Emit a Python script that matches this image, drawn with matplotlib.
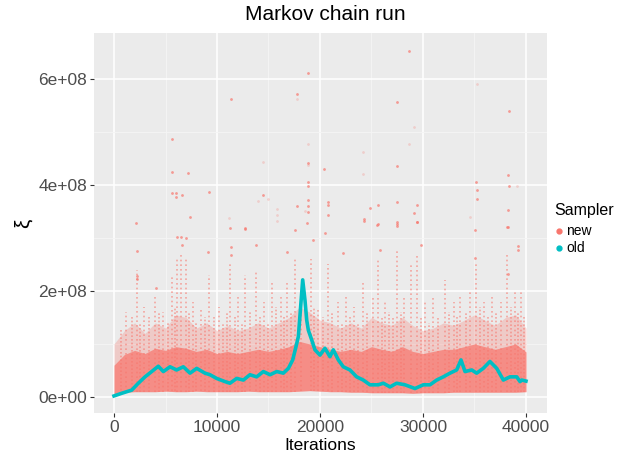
import matplotlib
matplotlib.use("Agg")
import matplotlib.pyplot as plt
import numpy as np
from matplotlib.lines import Line2D
from matplotlib.ticker import FuncFormatter, MultipleLocator

RED = "#F8766D"
TEAL = "#00BFC4"
SCALE = 1e8

# "new" sampler: bulk of the cloud, sampled every 1000 iterations (units of 1e8)
band_x = list(range(0, 40001, 1000))
band_lo = [0.05, 0.09, 0.10, 0.10, 0.10, 0.11, 0.10, 0.10, 0.11, 0.10, 0.10,
           0.10, 0.10, 0.11, 0.10, 0.10, 0.10, 0.10, 0.11, 0.12, 0.11, 0.10,
           0.10, 0.09, 0.09, 0.08, 0.08, 0.08, 0.08, 0.07, 0.08, 0.08, 0.08,
           0.09, 0.09, 0.09, 0.09, 0.09, 0.09, 0.09, 0.10]
band_core = [0.60, 0.80, 0.88, 0.82, 0.92, 0.88, 0.95, 0.92, 0.86, 0.90, 0.82,
             0.86, 0.82, 0.86, 0.90, 0.86, 0.90, 0.95, 1.05, 1.00, 0.95, 0.90,
             0.86, 0.90, 0.86, 0.95, 0.90, 0.86, 0.95, 0.86, 0.82, 0.86, 0.90,
             0.90, 0.95, 1.00, 0.95, 0.90, 0.95, 1.00, 0.85]
band_hi = [1.00, 1.25, 1.40, 1.20, 1.40, 1.30, 1.55, 1.50, 1.30, 1.40, 1.25,
           1.35, 1.25, 1.30, 1.40, 1.30, 1.40, 1.50, 1.70, 1.60, 1.45, 1.40,
           1.30, 1.40, 1.30, 1.50, 1.40, 1.35, 1.50, 1.35, 1.25, 1.30, 1.40,
           1.35, 1.45, 1.55, 1.45, 1.35, 1.50, 1.55, 1.30]

# tall excursions of the "new" chain: (iteration, top value)
spike_x = [1200, 2200, 2900, 4000, 4800, 5600, 6100, 6500, 7000, 7700, 8400,
           9200, 10200, 11300, 12000, 12700, 13800, 14600, 15300, 16200, 16800,
           17600, 18200, 19100, 19800, 20800, 21700, 22500, 23300, 24200, 25100,
           25600, 26300, 27500, 28200, 28800, 29400, 30200, 31000, 32100, 33000,
           33600, 34600, 35100, 35900, 36700, 37600, 38200, 38900, 39500]
spike_top = [1.6, 2.4, 1.7, 1.9, 1.6, 2.3, 2.6, 2.7, 2.6, 1.8, 1.7,
             2.3, 1.7, 2.5, 1.9, 2.3, 2.4, 1.8, 2.2, 1.9, 2.2,
             2.6, 1.9, 2.6, 1.7, 2.5, 1.8, 1.9, 1.7, 2.2, 1.9,
             2.6, 1.8, 2.8, 1.9, 2.5, 2.7, 1.8, 1.9, 2.2, 1.8,
             1.9, 2.0, 2.5, 1.8, 1.9, 1.8, 2.7, 2.0, 2.0]

# shorter streaks rising out of the bulk
streak_x = [700, 1700, 2500, 3400, 4400, 5200, 5900, 7300, 8000, 8800, 9700,
            10600, 11000, 11700, 12400, 13200, 14200, 15000, 15700, 16500,
            17200, 19400, 20300, 21200, 22100, 22900, 23700, 24600, 26000,
            26700, 27100, 27900, 29800, 30600, 31500, 32500, 33300, 34200,
            35500, 36300, 37100, 38500, 39200, 39800]
streak_top = [1.3, 1.5, 1.4, 1.5, 1.6, 1.4, 1.7, 1.6, 1.4, 1.5, 1.5,
              1.4, 1.6, 1.5, 1.4, 1.6, 1.5, 1.4, 1.7, 1.5,
              1.6, 1.7, 1.5, 1.6, 1.4, 1.5, 1.4, 1.6, 1.5,
              1.6, 1.5, 1.6, 1.5, 1.4, 1.5, 1.6, 1.5, 1.6,
              1.7, 1.5, 1.6, 1.7, 1.6, 1.5]

# isolated large draws
out_x = [18870, 17740, 11330, 5600, 5600, 7150, 5600, 6020, 6020, 6570, 9220,
         7380, 2140, 14500, 17740, 18870, 18870, 18870, 18870, 18800, 18800,
         12720, 28640, 27510, 38380, 20420, 27480, 38220, 35110, 38380, 35210,
         35210, 20810, 20810, 20810, 27510, 24850, 25600, 29450, 29160, 24270,
         24270, 25600, 27450, 27450, 27450, 29450, 38220, 38220, 18770, 2260,
         2240, 2240, 6080, 6470, 6960, 6570, 9160, 11260, 12720, 11390, 11390,
         13750, 17570, 16770, 4050, 29390, 25570, 19290, 22200, 25830, 29810,
         35050, 35050, 38190, 39250, 39250, 38280, 20480]
out_y = [6.12, 5.71, 5.62, 4.87, 4.24, 4.22, 3.84, 3.85, 3.78, 3.82, 3.86,
         3.40, 3.29, 3.81, 3.60, 4.41, 4.05, 3.99, 3.72, 3.60, 3.49,
         3.17, 6.53, 5.56, 5.40, 4.30, 4.35, 4.18, 4.05, 3.99, 3.91,
         3.73, 3.68, 3.62, 3.43, 3.67, 3.57, 3.62, 3.62, 3.48, 3.36,
         3.33, 3.26, 3.30, 3.27, 3.22, 3.30, 3.21, 3.53, 3.28, 2.75,
         2.28, 2.22, 3.02, 3.02, 3.00, 2.87, 2.74, 3.18, 3.18, 2.83, 2.67,
         2.87, 3.15, 2.74, 2.05, 3.31, 3.25, 2.96, 2.71, 2.77, 2.87,
         3.15, 2.62, 3.21, 2.84, 2.77, 2.33, 3.09]

# fainter isolated draws
faint_x = [17740, 14500, 14010, 14980, 18870, 18870, 15800, 15800, 15800,
           11200, 35210, 29160, 28670, 24210, 24210, 39090, 18540, 34560]
faint_y = [5.62, 4.44, 3.70, 3.73, 4.77, 4.38, 3.54, 3.44, 3.32,
           3.37, 5.91, 5.09, 4.77, 4.63, 4.20, 3.99, 3.50, 3.40]

# "old" sampler trace
old_x = [0, 750, 1720, 2360, 3010, 3660, 4300, 4790, 5440, 6080, 6730, 7380,
         8030, 8830, 9320, 9970, 10780, 11260, 11910, 12560, 13200, 13850,
         14500, 15150, 15800, 16440, 16930, 17350, 17670, 17900, 18320, 18540,
         18710, 18870, 19190, 19510, 20000, 20480, 20970, 21290, 21780, 22260,
         22910, 23560, 24200, 24850, 25660, 26150, 26800, 27440, 28250, 29220,
         30030, 30680, 31330, 31970, 32620, 33270, 33690, 34080, 34730, 35210,
         35850, 36500, 37160, 37800, 38450, 39100, 39420, 39580, 40000]
old_y = [0.02, 0.07, 0.13, 0.26, 0.38, 0.48, 0.58, 0.48, 0.57, 0.51, 0.57, 0.45,
         0.54, 0.45, 0.42, 0.35, 0.29, 0.26, 0.35, 0.32, 0.42, 0.38,
         0.48, 0.42, 0.48, 0.45, 0.54, 0.70, 0.95, 1.14, 2.21, 1.83,
         1.45, 1.26, 1.08, 0.89, 0.79, 0.92, 0.76, 0.89, 0.70, 0.57,
         0.51, 0.38, 0.32, 0.23, 0.23, 0.26, 0.19, 0.26, 0.23, 0.16,
         0.23, 0.23, 0.32, 0.38, 0.45, 0.51, 0.70, 0.48, 0.51, 0.45,
         0.54, 0.67, 0.54, 0.32, 0.38, 0.38, 0.29, 0.32, 0.30]

plt.rcParams["font.family"] = ["Liberation Sans", "DejaVu Sans"]

fig = plt.figure(figsize=(6.21, 4.54), dpi=100)
ax = fig.add_axes([94 / 621, 1 - 413 / 454, 453 / 621, 380 / 454])
ax.set_facecolor("#EBEBEB")

bx = np.array(band_x)
lo = np.array(band_lo)
core = np.array(band_core)
ax.fill_between(bx, lo * SCALE, np.array(band_hi) * SCALE,
                color=RED, alpha=0.28, linewidth=0, zorder=2)
ax.fill_between(bx, lo * SCALE, core * SCALE,
                color=RED, alpha=0.72, linewidth=0, zorder=2)
ax.vlines(streak_x, lo[np.array(streak_x) // 1000] * SCALE,
          np.array(streak_top) * SCALE, color=RED, alpha=0.6,
          linewidth=1.2, linestyles=(0, (1, 1.2)), zorder=2)
ax.vlines(spike_x, lo[np.array(spike_x) // 1000] * SCALE,
          np.array(spike_top) * SCALE, color=RED, alpha=0.6,
          linewidth=1.2, linestyles=(0, (1, 1.8)), zorder=2)
ax.scatter(out_x, np.array(out_y) * SCALE, s=4, color=RED, alpha=0.7,
           linewidths=0, zorder=3)
ax.scatter(faint_x, np.array(faint_y) * SCALE, s=4, color=RED, alpha=0.25,
           linewidths=0, zorder=3)
ax.plot(old_x, np.array(old_y) * SCALE, color=TEAL, linewidth=2.6, zorder=4,
        solid_joinstyle="round")

ax.set_xlim(-1942, 42040)
ax.set_ylim(-0.302e8, 6.868e8)
ax.xaxis.set_major_locator(MultipleLocator(10000))
ax.xaxis.set_minor_locator(MultipleLocator(5000))
ax.yaxis.set_major_locator(MultipleLocator(2e8))
ax.yaxis.set_minor_locator(MultipleLocator(1e8))
ax.yaxis.set_major_formatter(FuncFormatter(lambda v, p: f"{v:.0e}"))
ax.grid(which="major", color="white", linewidth=1.1, zorder=0)
ax.grid(which="minor", color="#F5F5F5", linewidth=0.6, zorder=0)
ax.set_axisbelow(True)
for s in ax.spines.values():
    s.set_visible(False)
ax.tick_params(which="major", length=3, color="#333333", labelsize=12.5,
               labelcolor="#4D4D4D", pad=2)
ax.tick_params(which="minor", length=0)

ax.set_xlabel("Iterations", fontsize=12.5, labelpad=2)
ax.set_ylabel("ξ", fontsize=15, labelpad=4)
fig.text(325 / 621, 1 - 15 / 454, "Markov chain run", fontsize=15,
         ha="center", va="center")

# legend
fig.text(554 / 621, 1 - 210 / 454, "Sampler", fontsize=11.5, ha="left", va="center")
for yy, col, lab in [(231, RED, "new"), (248, TEAL, "old")]:
    fig.add_artist(Line2D([559 / 621], [1 - yy / 454], transform=fig.transFigure,
                          marker="o", markersize=3.5, color=col, linestyle="none"))
    fig.text(566 / 621, 1 - yy / 454, lab, fontsize=10, ha="left", va="center")

fig.savefig("out.png", dpi=100)
